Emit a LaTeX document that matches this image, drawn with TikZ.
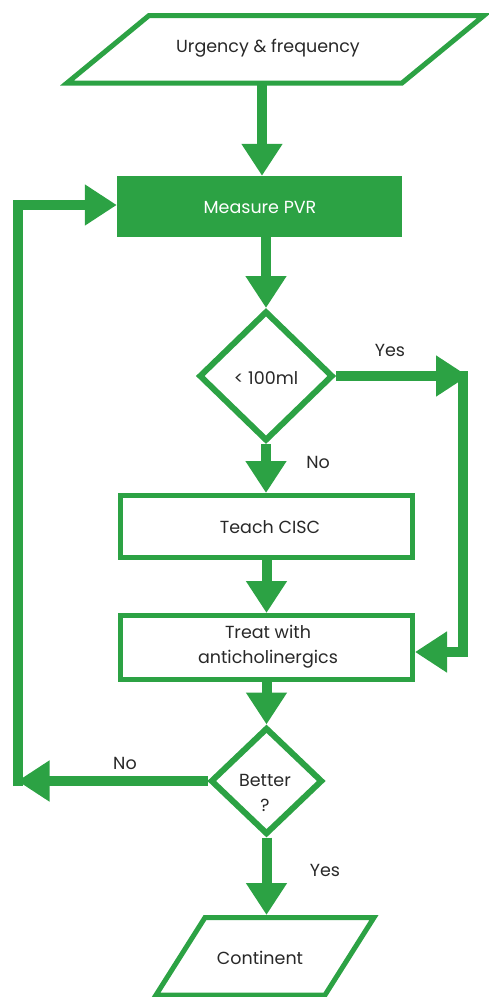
\documentclass[tikz,border=0pt]{standalone}
\usepackage{fontspec}
\setmainfont{Poppins}
\usetikzlibrary{arrows.meta,shapes.geometric,calc}
\definecolor{fg}{RGB}{44,162,68}
\definecolor{txt}{RGB}{40,40,40}
\tikzset{
  conn/.style={draw=fg, line width=10pt},
  arr/.style={conn, -{Triangle[width=39pt,length=32pt]}},
  procbox/.style={draw=fg, line width=5pt, rectangle, inner sep=0pt},
  decide/.style={draw=fg, line width=6pt, diamond, inner sep=0pt},
  lbl/.style={text=txt, font=\fontsize{17.5}{25}\selectfont, inner sep=0pt, align=center},
}
\begin{document}
\begin{tikzpicture}[x=1pt,y=-1pt]
\useasboundingbox (0,0) rectangle (488,997);
% top parallelogram
\draw[fg, line width=5pt, line join=miter] (149,15.5) -- (484,15.5) -- (402,83) -- (67,83) -- cycle;
\node[lbl] (urg) at (268,48) {Urgency \& frequency};
\coordinate (urgB) at (262,85);
% measure PVR
\node[fill=fg, minimum width=285pt, minimum height=61pt, inner sep=0pt] (meas) at (259.5,206.5) {};
\node[lbl, text=white] (measT) at (260,207) {Measure PVR};
\draw[arr] (urgB) -- (urgB |- meas.north);
% diamond 1
\node[decide, minimum width=134pt, minimum height=130pt] (d1) at (266,376) {};
\node[lbl] (d1T) at (266,378) {< 100ml};
\draw[arr] (meas.south -| d1.north) -- (d1.north);
% teach
\node[procbox, minimum width=292pt, minimum height=62pt] (teach) at (266.5,526.5) {};
\node[lbl] (teachT) at (270,527) {Teach CISC};
\draw[arr] (d1.south) -- (d1.south |- teach.north);
\node[lbl] (no1) at (318,462) {No};
% treat
\node[procbox, minimum width=292pt, minimum height=64pt] (treat) at (266.5,647.5) {};
\node[lbl] (treatT) at (268,647) {Treat with\\anticholinergics};
\draw[arr] (teach.south) -- (treat.north);
% yes branch right
\coordinate (yr) at (463,376);
\coordinate (yb) at (463,652);
\draw[arr] (d1.east) -- ($(d1.east -| yr)+(5,0)$);
\draw[arr, line join=miter] ($(yr)+(0,-5)$) -- (yb) -- (yb -| treat.east);
\node[lbl] (yes1) at (390,350) {Yes};
% better
\node[decide, minimum width=112pt, minimum height=107pt] (better) at (266.5,781) {};
\node[lbl] (betterT) at (265,793) {Better\\?};
\draw[arr] (treat.south) -- (better.north);
% no loop left
\coordinate (cl) at (17.5,781);
\coordinate (ct) at (17.5,205);
\draw[arr] (better.west) -- (better.west -| cl);
\draw[arr, line join=miter] ($(cl)+(0,5)$) -- (ct) -- (ct -| meas.west);
\node[lbl] (no2) at (125,763) {No};
% continent
\draw[fg, line width=5pt, line join=miter] (205,917.5) -- (374,917.5) -- (325,995) -- (156,995) -- cycle;
\node[lbl] (cont) at (260,958) {Continent};
\coordinate (contT) at (266.5,915);
\draw[arr] (better.south) -- (contT);
\node[lbl] (yes2) at (325,870) {Yes};
\end{tikzpicture}
\end{document}
